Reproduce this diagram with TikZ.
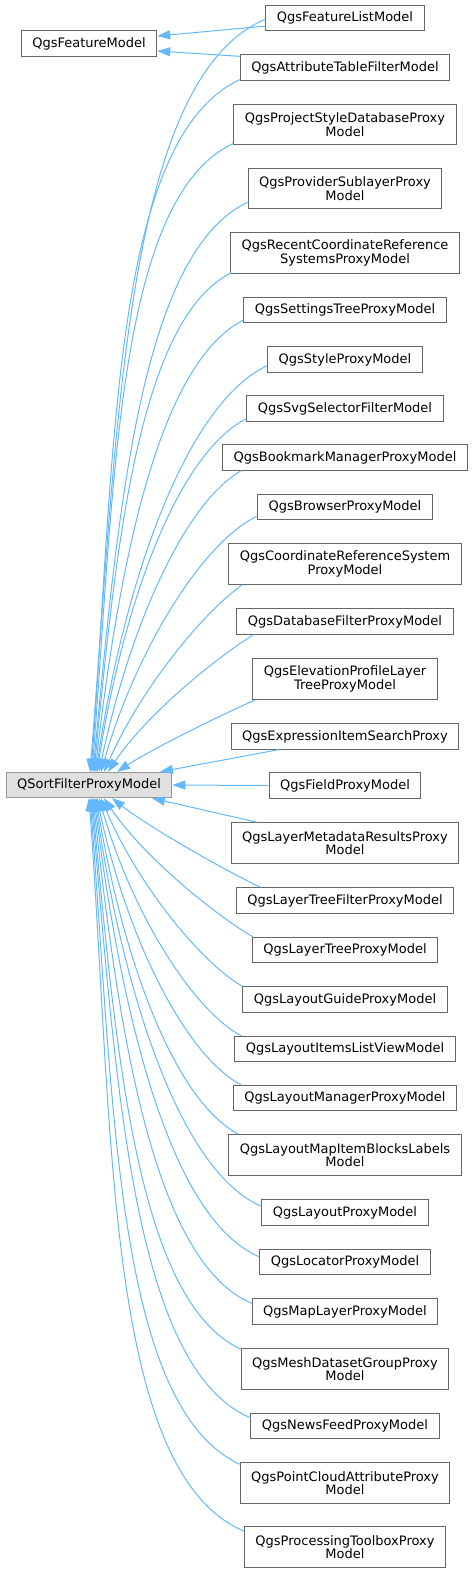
\documentclass[tikz,border=0pt]{standalone}
\usepackage{fontspec}
\setmainfont{DejaVu Sans}
\usetikzlibrary{arrows.meta,calc}

\definecolor{edgeblue}{HTML}{63B8FF}
\definecolor{boxgray}{HTML}{666666}
\definecolor{rootgray}{HTML}{999999}
\definecolor{rootfill}{HTML}{E0E0E0}

\tikzset{
  cls/.style={draw=boxgray, fill=white, line width=0.75pt, inner xsep=8.25pt, inner ysep=2pt,
    minimum height=19pt, align=center, font=\fontsize{9.75pt}{10pt}\selectfont},
  cls2/.style={cls, minimum height=30.5pt},
  root/.style={cls, draw=rootgray, fill=rootfill},
  inh/.style={draw=edgeblue, line width=0.75pt, {Triangle[length=9.75pt,width=6.8pt]}-}
}

\begin{document}
\begin{tikzpicture}[x=0.75pt, y=0.75pt]
        \useasboundingbox (0,0) rectangle (475,-1573);

        % Nodes
        \node (fm) at (89,-43.5) [cls] {QgsFeatureModel};
        \node (sfpm) at (89,-785) [root] {QSortFilterProxyModel};

        \node (fl) at (345,-18) [cls] {QgsFeatureListModel};
        \node (atf) at (345,-67.5) [cls] {QgsAttributeTableFilterModel};
        \node (psd) at (345,-124.5) [cls2] {QgsProjectStyleDatabaseProxy\\Model};
        \node (psl) at (345,-188.5) [cls2] {QgsProviderSublayerProxy\\Model};
        \node (rcrs) at (345,-253) [cls2] {QgsRecentCoordinateReference\\SystemsProxyModel};
        \node (stp) at (345,-310) [cls] {QgsSettingsTreeProxyModel};
        \node (sty) at (345,-359.5) [cls] {QgsStyleProxyModel};
        \node (svg) at (345,-408.5) [cls] {QgsSvgSelectorFilterModel};
        \node (bmk) at (345,-457.5) [cls] {QgsBookmarkManagerProxyModel};
        \node (brw) at (345,-507) [cls] {QgsBrowserProxyModel};
        \node (crs) at (345,-564) [cls2] {QgsCoordinateReferenceSystem\\ProxyModel};
        \node (dbf) at (345,-621.5) [cls] {QgsDatabaseFilterProxyModel};
        \node (elp) at (345,-679) [cls2] {QgsElevationProfileLayer\\TreeProxyModel};
        \node (exp) at (345,-736.5) [cls] {QgsExpressionItemSearchProxy};
        \node (fld) at (345,-785.5) [cls] {QgsFieldProxyModel};
        \node (lmd) at (345,-843) [cls2] {QgsLayerMetadataResultsProxy\\Model};
        \node (ltf) at (345,-900.5) [cls] {QgsLayerTreeFilterProxyModel};
        \node (ltp) at (345,-950) [cls] {QgsLayerTreeProxyModel};
        \node (lgd) at (345,-999.5) [cls] {QgsLayoutGuideProxyModel};
        \node (lil) at (345,-1049) [cls] {QgsLayoutItemsListViewModel};
        \node (lmg) at (345,-1098) [cls] {QgsLayoutManagerProxyModel};
        \node (lmb) at (345,-1155) [cls2] {QgsLayoutMapItemBlocksLabels\\Model};
        \node (lpx) at (345,-1212.5) [cls] {QgsLayoutProxyModel};
        \node (loc) at (345,-1262) [cls] {QgsLocatorProxyModel};
        \node (mlp) at (345,-1311.5) [cls] {QgsMapLayerProxyModel};
        \node (mdg) at (345,-1369) [cls2] {QgsMeshDatasetGroupProxy\\Model};
        \node (nfd) at (345,-1426) [cls] {QgsNewsFeedProxyModel};
        \node (pca) at (345,-1483) [cls2] {QgsPointCloudAttributeProxy\\Model};
        \node (ptb) at (345,-1547) [cls2] {QgsProcessingToolboxProxy\\Model};

        % Edges to QgsFeatureModel
        \draw[inh] ($(fm.east)+(0,7.5)$) -- ($(fl.south west)+(0,5)$);
        \draw[inh] ($(fm.east)+(0,-7.5)$) -- ($(atf.north west)+(0,-2)$);

        % Edges to QSortFilterProxyModel, upper half
        \draw[inh] ($(sfpm.north)+(1,0)$) to[out=85.4, in=203, out distance=260pt, in distance=115pt] ($(fl.south west)+(0,12)$);
        \draw[inh] ($(sfpm.north)+(2,0)$) to[out=85.7, in=205, out distance=239pt, in distance=106pt] ($(atf.south west)+(0,1)$);
        \draw[inh] ($(sfpm.north)+(3,0)$) to[out=85.5, in=205, out distance=217pt, in distance=97pt] ($(psd.south west)+(0,2)$);
        \draw[inh] ($(sfpm.north)+(4,0)$) to[out=84.6, in=205, out distance=199pt, in distance=88pt] ($(psl.south west)+(0,7)$);
        \draw[inh] ($(sfpm.north)+(5,0)$) to[out=84.5, in=207, out distance=175pt, in distance=77pt] ($(rcrs.south west)+(1,1)$);
        \draw[inh] ($(sfpm.north)+(6,0)$) to[out=83.4, in=207, out distance=160pt, in distance=71pt] ($(stp.south west)+(0,3)$);
        \draw[inh] ($(sfpm.north)+(7,0)$) to[out=81.6, in=205, out distance=148pt, in distance=66pt] ($(sty.south west)+(0,7)$);
        \draw[inh] ($(sfpm.north)+(8,0)$) to[out=81, in=207, out distance=129pt, in distance=58pt] ($(svg.south west)+(0,3)$);
        \draw[inh] ($(sfpm.north)+(10,0)$) to[out=78, in=210, out distance=110pt, in distance=50pt] ($(bmk.south west)+(19,0)$);
        \draw[inh] ($(sfpm.north)+(12,0)$) to[out=74, in=205, out distance=95pt, in distance=45pt] ($(brw.south west)+(0,4)$);
        \draw[inh] ($(sfpm.north)+(15,0)$) to[out=66, in=215, out distance=70pt, in distance=35pt] ($(crs.south west)+(14,0)$);
        \draw[inh] ($(sfpm.north)+(19,0)$) to[out=56, in=212, out distance=55pt, in distance=30pt] ($(dbf.south west)+(17,0)$);
        \draw[inh] ($(sfpm.north)+(28,0)$) to[out=33, in=204, out distance=32pt, in distance=30pt] ($(elp.south west)+(3,0)$);
        \draw[inh] ($(sfpm.north)+(71,0)$) -- ($(exp.south west)+(48,0)$);
        \draw[inh] (sfpm.east) -- (fld.west);

        % Edges to QSortFilterProxyModel, lower half
        \draw[inh] ($(sfpm.south)+(63,0)$) -- ($(lmd.north west)+(26,0)$);
        \draw[inh] ($(sfpm.south)+(23,0)$) to[out=-38, in=155, out distance=35pt, in distance=30pt] ($(ltf.north west)+(25,0)$);
        \draw[inh] ($(sfpm.south)+(15,0)$) to[out=-56, in=150, out distance=55pt, in distance=30pt] ($(ltp.north west)+(1,0)$);
        \draw[inh] ($(sfpm.south)+(12,0)$) to[out=-67, in=150, out distance=72pt, in distance=35pt] (lgd.north west);
        \draw[inh] ($(sfpm.south)+(10,0)$) to[out=-74, in=152, out distance=90pt, in distance=41pt] ($(lil.north west)+(7,0)$);
        \draw[inh] ($(sfpm.south)+(8,0)$) to[out=-78, in=152, out distance=106pt, in distance=48pt] ($(lmg.north west)+(8,0)$);
        \draw[inh] ($(sfpm.south)+(7,0)$) to[out=-80.5, in=152, out distance=122pt, in distance=55pt] ($(lmb.north west)+(10,0)$);
        \draw[inh] ($(sfpm.south)+(6,0)$) to[out=-81.9, in=157, out distance=148pt, in distance=66pt] ($(lpx.north west)+(0,-7)$);
        \draw[inh] ($(sfpm.south)+(5,0)$) to[out=-82.8, in=157, out distance=164pt, in distance=73pt] ($(loc.north west)+(0,-8)$);
        \draw[inh] ($(sfpm.south)+(4,0)$) to[out=-83.8, in=157, out distance=178pt, in distance=80pt] ($(mlp.north west)+(0,-5)$);
        \draw[inh] ($(sfpm.south)+(3,0)$) to[out=-84.6, in=155, out distance=193pt, in distance=86pt] ($(mdg.north west)+(0,-1)$);
        \draw[inh] ($(sfpm.south)+(2,0)$) to[out=-84.9, in=157, out distance=216pt, in distance=96pt] ($(nfd.north west)+(0,-5)$);
        \draw[inh] ($(sfpm.south)+(1,0)$) to[out=-85.5, in=155, out distance=230pt, in distance=103pt] ($(pca.north west)+(0,-2)$);
        \draw[inh] (sfpm.south) to[out=-85.8, in=157, out distance=253pt, in distance=113pt] ($(ptb.north west)+(0,-5)$);
\end{tikzpicture}
\end{document}
